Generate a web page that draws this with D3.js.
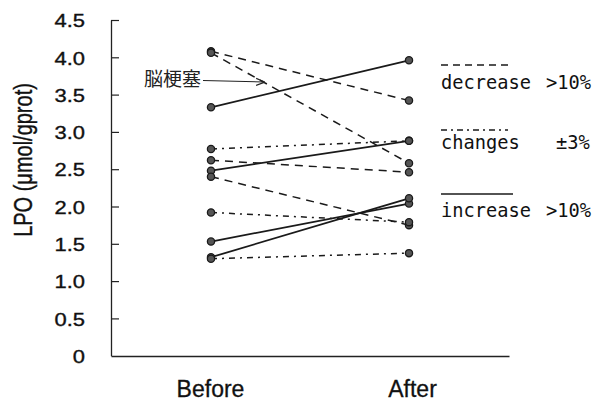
<!DOCTYPE html>
<html>
<head>
<meta charset="utf-8">
<script src="https://cdn.jsdelivr.net/npm/d3@7/dist/d3.min.js"></script>
<style>
  html, body { margin: 0; padding: 0; background: #fff; }
  svg { display: block; }
</style>
</head>
<body>
<svg id="chart" width="601" height="402"></svg>
<script>
// groups on the x axis
const groups = ["Before", "After"];

// one entry per subject
const beforeValues = [4.08, 4.06, 3.33, 2.77, 2.62, 2.48, 2.40, 1.92, 1.53, 1.32, 1.30];
const afterValues  = [3.42, 2.58, 3.96, 2.88, 2.46, 2.88, 1.75, 1.79, 2.04, 2.11, 1.375];
const changeType   = ["decrease", "decrease", "increase", "changes", "decrease", "increase",
                      "decrease", "changes", "increase", "increase", "changes"];

const yTicks = [0, 0.5, 1, 1.5, 2, 2.5, 3, 3.5, 4, 4.5];
const yTickLabels = ["0", "0.5", "1.0", "1.5", "2.0", "2.5", "3.0", "3.5", "4.0", "4.5"];

const legendKeys = ["decrease", "changes", "increase"];
const legendLabels = ["decrease", "changes", "increase"];
const legendSuffix = [">10%", "\u00b13%", ">10%"];

const yTitle = "LPO (\u03bcmol/gprot)";
const noteText = "脳梗塞";

const dashes = { decrease: "8,6", changes: "6,5,2,5", increase: null };
const widths = { decrease: 1.5, changes: 1.5, increase: 1.8 };
const sx = 1.22; // tick digits in the scan are stretched sideways
const sans = "'Liberation Sans', Arial, sans-serif";
const mono = "'DejaVu Sans Mono', monospace";

const svg = d3.select("#chart");

const x = d3.scalePoint().domain(groups).range([111, 509]).padding(0.505);
const y = d3.scaleLinear().domain([0, 4.5]).range([355.7, 20]);

// y axis, ticks pointing inward
const yAxis = svg.append("g")
    .attr("transform", "translate(111,0)")
    .call(d3.axisLeft(y).tickValues(yTicks)
        .tickFormat((d, i) => yTickLabels[i])
        .tickSizeInner(-8).tickSizeOuter(0).tickPadding(26));
yAxis.select(".domain").attr("stroke", "#222").attr("stroke-width", 1.3);
yAxis.selectAll(".tick line").attr("stroke", "#222").attr("stroke-width", 1.2);
yAxis.selectAll(".tick").filter(d => d === 0).select("line").remove();
yAxis.selectAll(".tick text")
    .attr("x", 0)
    .attr("transform", `translate(-26,1) scale(${sx},1)`)
    .attr("font-family", sans)
    .attr("font-size", 18)
    .attr("fill", "#111")
    .attr("stroke", "#111").attr("stroke-width", 0.35);

// x axis: plain baseline plus group names
const xAxis = svg.append("g")
    .attr("transform", "translate(0,356)")
    .call(d3.axisBottom(x).tickSize(0).tickSizeOuter(0));
xAxis.select(".domain").attr("stroke", "#222").attr("stroke-width", 1.3);
xAxis.selectAll(".tick text")
    .attr("y", 40.5).attr("dy", 0)
    .attr("x", (d, i) => i === 1 ? 3 : -1)
    .attr("font-family", sans)
    .attr("font-size", 23)
    .attr("fill", "#111")
    .attr("stroke", "#111").attr("stroke-width", 0.3);

// y title
svg.append("text")
    .attr("transform", `translate(32,160) rotate(-90) scale(1,1.25)`)
    .attr("text-anchor", "middle")
    .attr("font-family", sans)
    .attr("font-size", 20)
    .attr("fill", "#111")
    .attr("stroke", "#111").attr("stroke-width", 0.3)
    .text(yTitle);

// paired lines
const pairs = beforeValues.map((b, i) => ({ before: b, after: afterValues[i], type: changeType[i] }));

svg.append("g").selectAll("line")
    .data(pairs)
    .join("line")
    .attr("x1", x("Before")).attr("y1", d => y(d.before))
    .attr("x2", x("After")).attr("y2", d => y(d.after))
    .attr("stroke", "#1a1a1a")
    .attr("stroke-width", d => widths[d.type])
    .attr("stroke-dasharray", d => dashes[d.type]);

// points
const pts = [];
pairs.forEach(d => {
  pts.push({ g: "Before", v: d.before });
  pts.push({ g: "After", v: d.after });
});
svg.append("g").selectAll("circle")
    .data(pts)
    .join("circle")
    .attr("cx", d => x(d.g))
    .attr("cy", d => y(d.v))
    .attr("r", 3.6)
    .attr("fill", "#555")
    .attr("stroke", "#1a1a1a")
    .attr("stroke-width", 1.3);

// annotation arrow
svg.append("defs").append("marker")
    .attr("id", "arr")
    .attr("viewBox", "0 0 10 10")
    .attr("refX", 9).attr("refY", 5)
    .attr("markerWidth", 8).attr("markerHeight", 8)
    .attr("orient", "auto")
    .append("path")
    .attr("d", "M0,1 L10,5 L0,9")
    .attr("fill", "none")
    .attr("stroke", "#222")
    .attr("stroke-width", 1.4);

svg.append("text")
    .attr("x", 144).attr("y", 86)
    .attr("font-family", "'Noto Sans CJK JP', sans-serif")
    .attr("font-size", 19)
    .attr("fill", "#222")
    .text(noteText);
svg.append("line")
    .attr("x1", 203).attr("y1", 80.5)
    .attr("x2", 264).attr("y2", 82)
    .attr("stroke", "#222").attr("stroke-width", 1.1)
    .attr("marker-end", "url(#arr)");

// legend
const legend = svg.append("g")
    .selectAll("g")
    .data(legendKeys)
    .join("g")
    .attr("transform", (d, i) => `translate(441,${[65, 130, 194][i]})`);

legend.append("line")
    .attr("x1", 0).attr("x2", (d, i) => [69, 67, 72][i])
    .attr("y1", 0).attr("y2", 0)
    .attr("stroke", "#1a1a1a")
    .attr("stroke-width", d => d === "increase" ? 1.4 : 1.5)
    .attr("stroke-dasharray", d => d === "decrease" ? "7,5" : d === "changes" ? "6,4,2,4" : null);

legend.append("text")
    .attr("x", 0).attr("y", (d, i) => [23.5, 18.5, 22.5][i])
    .attr("font-family", mono)
    .attr("font-size", 18.7)
    .attr("fill", "#111")
    .text((d, i) => legendLabels[i]);

legend.append("text")
    .attr("x", (d, i) => [105, 115, 105][i])
    .attr("y", (d, i) => [23.5, 18.5, 22.5][i])
    .attr("font-family", mono)
    .attr("font-size", 18.7)
    .attr("fill", "#111")
    .text((d, i) => legendSuffix[i]);
</script>
</body>
</html>
